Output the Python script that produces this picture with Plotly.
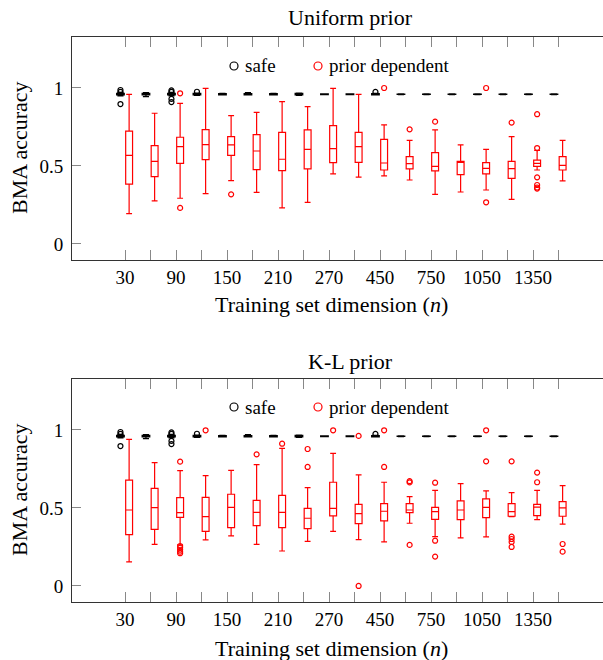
import plotly.graph_objects as go

W, H = 612, 660          # figure slightly wider than the window: right frame is clipped as in the reference
L = 72                   # left margin (px)

# ---------------- data ----------------
sizes = [30, 60, 90, 120, 150, 180, 210, 240, 270, 300, 450, 600, 750, 900, 1050, 1200, 1350, 1500]
tick_text = ['30', '', '90', '', '150', '', '210', '', '270', '', '450', '', '750', '', '1050', '', '1350', '']

# safe (black) boxes - same in both panels
safe_lo  = [0.950, 0.945, 0.950, 0.952, 0.955, 0.955, 0.955, 0.953, 0.957, 0.957, 0.955, 0.958, 0.958, 0.958, 0.958, 0.958, 0.958, 0.958]
safe_q1  = [0.955, 0.955, 0.955, 0.955, 0.956, 0.956, 0.956, 0.955, 0.958, 0.958, 0.956, 0.959, 0.959, 0.959, 0.959, 0.959, 0.959, 0.959]
safe_med = [0.960, 0.960, 0.960, 0.960, 0.960, 0.960, 0.960, 0.960, 0.960, 0.960, 0.960, 0.960, 0.960, 0.960, 0.960, 0.960, 0.960, 0.960]
safe_q3  = [0.966, 0.966, 0.966, 0.965, 0.964, 0.964, 0.964, 0.965, 0.962, 0.962, 0.964, 0.961, 0.961, 0.961, 0.961, 0.961, 0.961, 0.961]
safe_hi  = [0.972, 0.970, 0.972, 0.968, 0.966, 0.970, 0.966, 0.968, 0.963, 0.963, 0.966, 0.962, 0.962, 0.962, 0.962, 0.962, 0.962, 0.962]
safe_out = [[0.987, 0.975, 0.897], [], [0.985, 0.975, 0.930, 0.910], [0.976], [], [], [], [], [], [],
            [0.975], [], [], [], [], [], [], []]

# prior dependent (red) boxes - Uniform prior
uni_lo  = [0.194, 0.276, 0.293, 0.323, 0.406, 0.331, 0.231, 0.267, 0.449, 0.429, 0.436, 0.410, 0.318, 0.333, 0.346, 0.286, 0.474, 0.404]
uni_q1  = [0.383, 0.432, 0.517, 0.541, 0.568, 0.476, 0.470, 0.481, 0.521, 0.523, 0.474, 0.481, 0.468, 0.444, 0.449, 0.421, 0.498, 0.474]
uni_med = [0.568, 0.530, 0.624, 0.637, 0.635, 0.596, 0.543, 0.607, 0.611, 0.624, 0.519, 0.515, 0.498, 0.523, 0.485, 0.483, 0.517, 0.504]
uni_q3  = [0.724, 0.630, 0.684, 0.733, 0.688, 0.701, 0.716, 0.731, 0.759, 0.716, 0.671, 0.560, 0.585, 0.530, 0.521, 0.530, 0.538, 0.560]
uni_hi  = [0.959, 0.838, 0.902, 0.998, 0.823, 0.844, 0.912, 0.880, 0.998, 0.959, 0.763, 0.664, 0.731, 0.635, 0.607, 0.688, 0.600, 0.664]
uni_out = [[], [], [0.966, 0.231], [], [0.318], [], [], [], [], [],
           [1.0], [0.735], [0.784], [], [1.0, 0.267], [0.778], [0.832, 0.615, 0.427, 0.378, 0.362, 0.355], []]

# prior dependent (red) boxes - K-L prior
kl_lo  = [0.154, 0.267, 0.263, 0.295, 0.321, 0.267, 0.224, 0.286, 0.350, 0.297, 0.282, 0.402, 0.316, 0.308, 0.314, 0.445, 0.425, 0.397]
kl_q1  = [0.329, 0.363, 0.440, 0.350, 0.374, 0.387, 0.374, 0.368, 0.449, 0.400, 0.417, 0.470, 0.427, 0.425, 0.438, 0.447, 0.451, 0.447]
kl_med = [0.487, 0.502, 0.470, 0.444, 0.504, 0.472, 0.472, 0.434, 0.498, 0.464, 0.479, 0.487, 0.477, 0.487, 0.504, 0.477, 0.506, 0.500]
kl_q3  = [0.679, 0.626, 0.566, 0.568, 0.588, 0.549, 0.581, 0.498, 0.665, 0.523, 0.528, 0.528, 0.504, 0.545, 0.558, 0.528, 0.523, 0.541]
kl_hi  = [0.940, 0.791, 0.739, 0.707, 0.741, 0.778, 0.882, 0.630, 0.850, 0.712, 0.665, 0.573, 0.613, 0.656, 0.609, 0.598, 0.613, 0.643]
kl_out = [[], [], [0.797, 0.256, 0.245, 0.232, 0.220, 0.210], [0.998], [], [0.844], [0.912], [0.878, 0.763], [0.998], [0.962, 0.0],
          [0.998, 0.763], [0.672, 0.664, 0.263], [0.662, 0.290, 0.188], [], [0.998, 0.799], [0.799, 0.316, 0.301, 0.282, 0.250],
          [0.727, 0.665], [0.269, 0.220]]

# ---------------- style ----------------
FONT = "Liberation Serif"
RED = "#ff0000"
BLACK = "#000000"
SAFE_OFF, RED_OFF = -0.18, 0.16
# x range: left frame at px 72, 25.5 px per category, first category at px 125
XR = [-2.08, -2.08 + (W - L) / 25.5]
YR = [-0.103, 1.327]

def px2x(px):   # page px -> paper x
    return (px - L) / (W - L)

def py2y(py):   # page px -> paper y
    return 1 - py / H

fig = go.Figure()

panels = [
    (uni_lo, uni_q1, uni_med, uni_q3, uni_hi, uni_out, "x", "y"),
    (kl_lo, kl_q1, kl_med, kl_q3, kl_hi, kl_out, "x2", "y2"),
]

idx = list(range(len(sizes)))
for lo, q1, med, q3, hi, outs, xa, ya in panels:
    # safe boxes
    fig.add_trace(go.Box(
        x=[i + SAFE_OFF for i in idx], lowerfence=safe_lo, q1=safe_q1, median=safe_med,
        q3=safe_q3, upperfence=safe_hi, width=0.3, whiskerwidth=0.8,
        line=dict(color=BLACK, width=1.2), fillcolor="rgba(0,0,0,0)",
        boxpoints=False, xaxis=xa, yaxis=ya, showlegend=False, hoverinfo="skip"))
    ox, oy = [], []
    for i, vals in enumerate(safe_out):
        for v in vals:
            ox.append(i + SAFE_OFF); oy.append(v)
    fig.add_trace(go.Scatter(
        x=ox, y=oy, mode="markers", xaxis=xa, yaxis=ya, showlegend=False, hoverinfo="skip",
        marker=dict(symbol="circle-open", size=5, color=BLACK, line=dict(width=1.2))))
    # prior dependent boxes
    fig.add_trace(go.Box(
        x=[i + RED_OFF for i in idx], lowerfence=lo, q1=q1, median=med,
        q3=q3, upperfence=hi, width=0.27, whiskerwidth=0.85,
        line=dict(color=RED, width=1.2), fillcolor="rgba(0,0,0,0)",
        boxpoints=False, xaxis=xa, yaxis=ya, showlegend=False, hoverinfo="skip"))
    ox, oy = [], []
    for i, vals in enumerate(outs):
        for v in vals:
            ox.append(i + RED_OFF); oy.append(v)
    fig.add_trace(go.Scatter(
        x=ox, y=oy, mode="markers", xaxis=xa, yaxis=ya, showlegend=False, hoverinfo="skip",
        marker=dict(symbol="circle-open", size=5, color=RED, line=dict(width=1.2))))

xcommon = dict(range=XR, tickmode="array", tickvals=idx, ticktext=tick_text,
               ticks="inside", ticklen=10, tickcolor="#888888", tickwidth=1,
               showline=True, linecolor="#333333", linewidth=1, mirror="ticks",
               showgrid=False, zeroline=False,
               tickfont=dict(family=FONT, size=19, color="black"))
ycommon = dict(range=YR, tickmode="array", tickvals=[0, 0.5, 1], ticktext=["0", "0.5", "1"],
               ticks="inside", ticklen=9, tickcolor="#888888", tickwidth=1,
               showline=True, linecolor="#333333", linewidth=1, mirror="ticks",
               showgrid=False, zeroline=False, ticklabelstandoff=4,
               tickfont=dict(family=FONT, size=19, color="black"))

top_dom = [py2y(260), py2y(37)]
bot_dom = [py2y(602), py2y(379)]

fig.update_layout(
    width=W, height=H,
    margin=dict(l=L, r=0, t=0, b=0),
    paper_bgcolor="white", plot_bgcolor="white",
    font=dict(family=FONT, color="black"),
    xaxis=dict(**xcommon, anchor="y", domain=[0, 1]),
    yaxis=dict(**ycommon, anchor="x", domain=top_dom),
    xaxis2=dict(**xcommon, anchor="y2", domain=[0, 1]),
    yaxis2=dict(**ycommon, anchor="x2", domain=bot_dom),
    showlegend=False,
)

ann = []
shapes = []
for (title, t_y, xt_y, yt_y, leg_y) in [("Uniform prior", 17, 304, 148, 66),
                                        ("K-L prior", 361, 648, 490, 407)]:
    ann.append(dict(text=title, x=px2x(350), y=py2y(t_y), xref="paper", yref="paper",
                    xanchor="center", yanchor="middle", showarrow=False,
                    font=dict(family=FONT, size=22, color="black")))
    ann.append(dict(text="Training set dimension (<i>n</i>)", x=px2x(331), y=py2y(xt_y),
                    xref="paper", yref="paper", xanchor="center", yanchor="middle",
                    showarrow=False, font=dict(family=FONT, size=22, color="black")))
    ann.append(dict(text="BMA accuracy", x=px2x(19), y=py2y(yt_y), xref="paper", yref="paper",
                    xanchor="center", yanchor="middle", textangle=-90, showarrow=False,
                    font=dict(family=FONT, size=22, color="black")))
    # legend
    for cx, col, label, tx in [(234, BLACK, "safe", 243), (318, RED, "prior dependent", 327)]:
        shapes.append(dict(type="circle", xref="paper", yref="paper",
                           xsizemode="pixel", ysizemode="pixel",
                           xanchor=px2x(cx), yanchor=py2y(leg_y),
                           x0=-4, x1=4, y0=-4, y1=4, line=dict(color=col, width=1.2)))
        ann.append(dict(text=label, x=px2x(tx), y=py2y(leg_y), xref="paper", yref="paper",
                        xanchor="left", yanchor="middle", showarrow=False,
                        font=dict(family=FONT, size=19, color="black")))

fig.update_layout(annotations=ann, shapes=shapes)
# remove the default page margin so the figure starts at the window corner
fig.write_html("out.html", config={"displayModeBar": False},
               post_script="document.body.style.margin='0';document.body.style.overflow='hidden';")
